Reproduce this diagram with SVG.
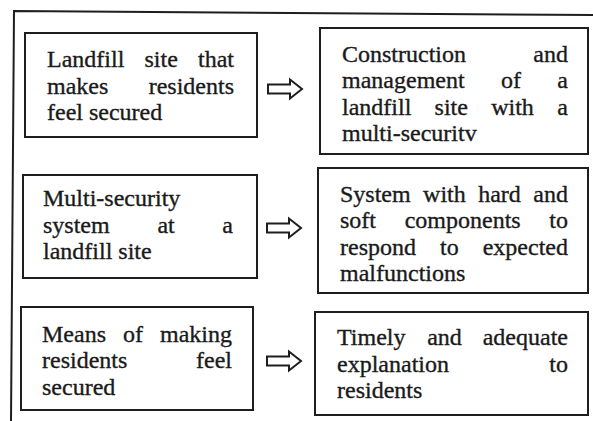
<svg xmlns="http://www.w3.org/2000/svg" width="593" height="421" viewBox="0 0 593 421">
<style>
.box{fill:#fff;stroke:#1e1e1e;stroke-width:2}
.t{font-family:"Liberation Serif","Times New Roman",serif;font-size:24px;fill:#1a1a1a;stroke:#1a1a1a;stroke-width:0.35}
.e{text-anchor:end}
.arr{fill:#fff;stroke:#1e1e1e;stroke-width:2;stroke-linejoin:miter}
.frame{fill:none;stroke:#1e1e1e;stroke-width:2}
</style>
<defs>
<path id="dbl" class="arr" d="M0 -4.5 H22 V-9.5 L34 0 L22 9.5 V4.5 H0 Z"/>
</defs>
<rect width="593" height="421" fill="#fff"/>
<path class="frame" d="M11 421 L14 11 L593 15"/>
<g id="connectors">
<use href="#dbl" x="268" y="89"/>
<use href="#dbl" x="267" y="228"/>
<use href="#dbl" x="267" y="361"/>
</g>
<g id="node1">
<rect class="box" x="25" y="33" width="232" height="104"/>
<text class="t" y="67"><tspan x="47">Landfill</tspan><tspan x="144.5">site</tspan><tspan class="e" x="234">that</tspan></text>
<text class="t" y="93.6"><tspan x="47">makes</tspan><tspan class="e" x="234">residents</tspan></text>
<text class="t" x="47" y="120.2">feel secured</text>
</g>
<g id="node2">
<rect class="box" x="320" y="28" width="268" height="126"/>
<text class="t" y="61.5"><tspan x="342">Construction</tspan><tspan class="e" x="568">and</tspan></text>
<text class="t" y="88.1"><tspan x="342">management</tspan><tspan x="501">of</tspan><tspan class="e" x="568">a</tspan></text>
<text class="t" y="114.7"><tspan x="342">landfill</tspan><tspan x="434.6">site</tspan><tspan x="491.2">with</tspan><tspan class="e" x="568">a</tspan></text>
<text class="t" x="342" y="141.3">multi-securitv</text>
</g>
<g id="node3">
<rect class="box" x="23" y="175" width="234" height="103"/>
<text class="t" x="43" y="206">Multi-security</text>
<text class="t" y="232.6"><tspan x="43">system</tspan><tspan x="157.4">at</tspan><tspan class="e" x="233">a</tspan></text>
<text class="t" x="43" y="259.2">landfill site</text>
</g>
<g id="node4">
<rect class="box" x="318" y="168" width="270" height="125"/>
<text class="t" y="201.5"><tspan x="340">System</tspan><tspan x="423.1">with</tspan><tspan x="478.2">hard</tspan><tspan class="e" x="568">and</tspan></text>
<text class="t" y="228.1"><tspan x="340">soft</tspan><tspan x="404.7">components</tspan><tspan class="e" x="568">to</tspan></text>
<text class="t" y="254.7"><tspan x="340">respond</tspan><tspan x="440">to</tspan><tspan class="e" x="568">expected</tspan></text>
<text class="t" x="340" y="281.3">malfunctions</text>
</g>
<g id="node5">
<rect class="box" x="21" y="307" width="232" height="103"/>
<text class="t" y="341.5"><tspan x="42">Means</tspan><tspan x="123">of</tspan><tspan class="e" x="232">making</tspan></text>
<text class="t" y="368.1"><tspan x="42">residents</tspan><tspan class="e" x="232">feel</tspan></text>
<text class="t" x="42" y="394.7">secured</text>
</g>
<g id="node6">
<rect class="box" x="315" y="312" width="273" height="103"/>
<text class="t" y="345"><tspan x="337">Timely</tspan><tspan x="427.2">and</tspan><tspan class="e" x="568">adequate</tspan></text>
<text class="t" y="371.6"><tspan x="337">explanation</tspan><tspan class="e" x="568">to</tspan></text>
<text class="t" x="337" y="398.2">residents</text>
</g>
</svg>
